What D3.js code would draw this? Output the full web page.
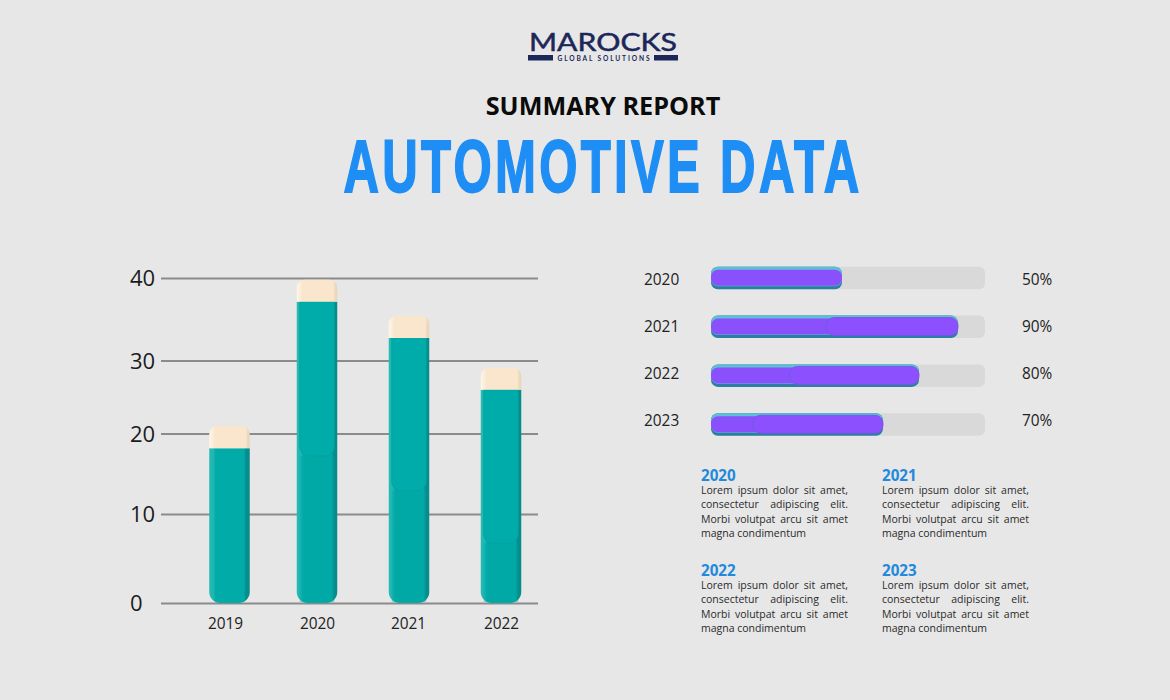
<!DOCTYPE html>
<html><head><meta charset="utf-8">
<script src="https://d3js.org/d3.v7.min.js"></script>
<style>html,body{margin:0;padding:0;background:#e7e7e7}svg{display:block}text{font-family:"Open Sans",sans-serif}</style>
</head><body><svg id="c" width="1170" height="700"></svg>
<script>
const years = ["2019","2020","2021","2022"];
const values = [21, 39.8, 35.4, 29];
const innerFloors = [null, 17.2, 12.9, 6.7];
const yTicks = [0,10,20,30,40];
const progressYears = ["2020","2021","2022","2023"];
const progressValues = [50,90,80,70];
const progressSplit = [0,44,30,16];
const notesHeading = ["2020","2021","2022","2023"];
const loremLines = ["Lorem ipsum dolor sit amet,","consectetur adipiscing elit.","Morbi volutpat arcu sit amet","magna condimentum"];

const svg = d3.select("#c");
svg.append("rect").attr("width",1170).attr("height",700).attr("fill","#e7e7e7");
const defs = svg.append("defs");
const hGrad=(id,stops)=>{const g=defs.append("linearGradient").attr("id",id);
  stops.forEach(s=>g.append("stop").attr("offset",s[0]).attr("stop-color",s[1]));};
hGrad("bodyG",[[0,"#25bab6"],[0.1,"#20b6b2"],[0.16,"#00aba8"],[0.86,"#00aba8"],[0.9,"#078f8f"],[1,"#078a8a"]]);
hGrad("capG",[[0,"#fff6e8"],[0.08,"#fbeeda"],[0.14,"#f9e6cd"],[0.9,"#f9e6cd"],[0.94,"#eddabf"],[1,"#e8d4b8"]]);

/* header */
const navy="#1c2759";
svg.append("text").attr("x",603).attr("y",51).attr("text-anchor","middle").attr("fill",navy).attr("stroke",navy).attr("stroke-width",0.5)
  .style("font-family","Lato").style("font-weight",400).style("font-size","25px")
  .attr("textLength",148).attr("lengthAdjust","spacingAndGlyphs").text("MAROCKS");
svg.append("rect").attr("x",528).attr("y",55).attr("width",25).attr("height",5.5).attr("fill",navy);
svg.append("rect").attr("x",654).attr("y",55).attr("width",24).attr("height",5.5).attr("fill",navy);
svg.append("text").attr("x",603.5).attr("y",60.5).attr("text-anchor","middle").attr("fill",navy)
  .style("font-family","Lato").style("font-weight",700).style("font-size","6.6px")
  .attr("textLength",92).attr("lengthAdjust","spacing").text("GLOBAL SOLUTIONS");
svg.append("text").attr("x",603).attr("y",115).attr("text-anchor","middle").attr("fill","#0b0b0b")
  .style("font-weight",700).style("font-size","25.2px").text("SUMMARY REPORT");
svg.append("text").attr("x",603).attr("y",192).attr("text-anchor","middle").attr("fill","#1e8ef5").attr("stroke","#1e8ef5").attr("stroke-width",1.8)
  .style("font-family","'Liberation Sans'").style("font-weight",700).style("font-size","75px").style("letter-spacing","5px")
  .attr("textLength",519).attr("lengthAdjust","spacingAndGlyphs").text("AUTOMOTIVE DATA");

/* left chart */
const y = d3.scaleLinear().domain(yTicks).range([603,514,433.5,360.5,278]);
const x = d3.scaleOrdinal().domain(years).range([229.5,317,409,501]);
const xLabel = d3.scaleOrdinal().domain(years).range([225,317,408,501]);
const barW = 40.5, capH = 22;

const gy = svg.append("g").attr("transform","translate(161,0)")
  .call(d3.axisRight(y).tickValues(yTicks).tickSize(377).tickFormat(""));
gy.select(".domain").remove();
gy.selectAll(".tick line").attr("stroke","#8b8b8b").attr("stroke-width",2);
gy.selectAll(".tick").append("text").attr("x",-31).attr("y",0).attr("dy","0.36em").attr("fill","#1c1c1c")
  .attr("text-anchor","start").style("font-size","22px").text(d=>d);

const gx = svg.append("g").attr("transform","translate(0,603)")
  .call(d3.axisBottom(xLabel).tickSize(0).tickFormat(d=>d));
gx.select(".domain").remove();
gx.selectAll(".tick text").attr("y",15).attr("dy","0.71em").attr("fill","#222")
  .style("font-size","15.4px").style("font-family","'Open Sans'");

const bottomRound=(l,t,w,b,r)=>{const p=d3.path();p.moveTo(l,t);p.lineTo(l+w,t);p.lineTo(l+w,b-r);
  p.arcTo(l+w,b,l+w-r,b,r);p.lineTo(l+r,b);p.arcTo(l,b,l,b-r,r);p.closePath();return p.toString();};
const topRound=(l,t,w,b,r)=>{const p=d3.path();p.moveTo(l,b);p.lineTo(l,t+r);p.arcTo(l,t,l+r,t,r);
  p.lineTo(l+w-r,t);p.arcTo(l+w,t,l+w,t+r,r);p.lineTo(l+w,b);p.closePath();return p.toString();};

const bars = svg.selectAll("g.bar").data(years).join("g").attr("class","bar");
bars.each(function(d,i){
  const g=d3.select(this), l=x(d)-barW/2, top=y(values[i]), base=y(0), split=top+capH;
  g.append("path").attr("d",bottomRound(l,split,barW,base,11)).attr("fill","url(#bodyG)");
  if(innerFloors[i]!==null){
    g.append("path").attr("d",bottomRound(l+3,split,barW-6,y(innerFloors[i]),9))
      .attr("fill","#00aca9").attr("stroke","#04a09e").attr("stroke-width",0.8);
    g.append("rect").attr("x",l+3).attr("y",y(innerFloors[i])).attr("width",barW-6).attr("height",base-y(innerFloors[i])-1)
      .attr("fill","#00a6a3").attr("fill-opacity",0.35);
  }
  g.append("path").attr("d",topRound(l,top,barW,split,8)).attr("fill","url(#capG)");
});

/* progress bars */
const px = d3.scaleLinear().domain([0,50,70,80,90,100]).range([711,842,883,919,958,985]);
const py = d3.scalePoint().domain(progressYears).range([278,424.5]);
const labelY = d3.scalePoint().domain(progressYears).range([279,420.5]);
const ph=22.5;
const rows=svg.selectAll("g.row").data(progressYears).join("g").attr("class","row");
rows.each(function(d,i){
  const g=d3.select(this), c=py(d), t=c-ph/2, end=px(progressValues[i]), w=end-px(0);
  g.append("text").attr("x",644).attr("y",labelY(d)).attr("dy","0.36em").attr("fill","#222").style("font-size","15.4px").text(d);
  g.append("text").attr("x",1022).attr("y",labelY(d)).attr("dy","0.36em").attr("fill","#222").style("font-size","15.4px").text(progressValues[i]+"%");
  g.append("rect").attr("x",px(0)).attr("y",t).attr("width",px(100)-px(0)).attr("height",ph).attr("rx",6).attr("fill","#d9d9d9");
  g.append("rect").attr("x",px(0)).attr("y",t).attr("width",w).attr("height",ph).attr("rx",7).attr("fill","#2b7fa3");
  g.append("rect").attr("x",px(0)).attr("y",t).attr("width",w).attr("height",ph-3).attr("rx",7).attr("fill","#5cbfd6");
  g.append("rect").attr("x",px(0)).attr("y",t+3).attr("width",w).attr("height",ph-6.5).attr("rx",7).attr("fill","#8a50fb");
  if(progressSplit[i]>0){
    g.append("rect").attr("x",px(progressSplit[i])).attr("y",t+2).attr("width",end-px(progressSplit[i])).attr("height",ph-4.5).attr("rx",8)
      .attr("fill","#8c50ff").attr("stroke","#7458e0").attr("stroke-width",0.9);
  }
});

/* notes */
const noteX=d3.scaleOrdinal().domain(notesHeading).range([701,882,701,882]);
const noteY=d3.scaleOrdinal().domain(notesHeading).range([481,481,576,576]);
const notes=svg.selectAll("g.note").data(notesHeading).join("g").attr("class","note")
  .attr("transform",d=>`translate(${noteX(d)},${noteY(d)})`);
notes.append("text").attr("fill","#2389dc").style("font-weight",700).style("font-size","15.2px").text(d=>d);
notes.each(function(){
  const g=d3.select(this);
  loremLines.forEach((s,k)=>{
    const t=g.append("text").attr("y",13+k*14.4).attr("fill","#2a2a2a").style("font-size","10.5px").text(s);
    if(k<3){
      const gaps=s.split(" ").length-1;
      const extra=(147-t.node().getComputedTextLength())/gaps;
      t.style("word-spacing",extra+"px");
    }
  });
});
</script></body></html>
